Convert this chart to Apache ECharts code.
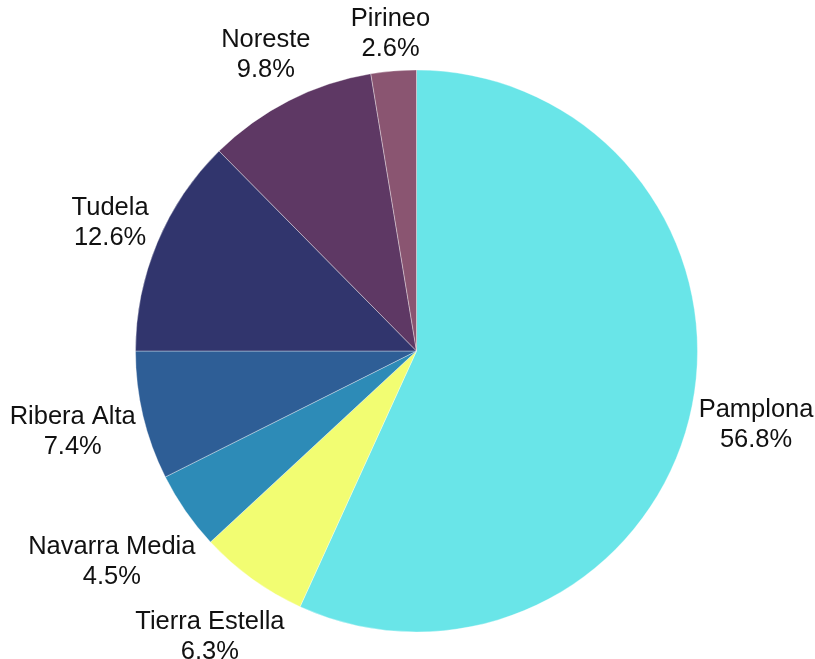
<!DOCTYPE html>
<html>
<head>
<meta charset="utf-8">
<script src="https://cdn.jsdelivr.net/npm/echarts@6/dist/echarts.min.js"></script>
<style>
  html, body { margin: 0; padding: 0; background: #fff; }
  #chart { width: 815px; height: 659px; }
</style>
</head>
<body>
<div id="chart"></div>
<script>
// Share by region (%)
var regions = ["Pamplona", "Tierra Estella", "Navarra Media", "Ribera Alta", "Tudela", "Noreste", "Pirineo"];
var shares = [56.8, 6.3, 4.5, 7.4, 12.6, 9.8, 2.6];
var colors = ["#69e5e8", "#f2fd72", "#2d8bb7", "#2e5e96", "#31356d", "#5e3864", "#8a5571"];

var cx = 416.5;
var cy = 351;
var radius = 281;

var total = shares.reduce(function (a, b) { return a + b; }, 0);

// mid angle of each slice, clockwise from 12 o'clock
function midDir(i) {
  var before = 0;
  for (var k = 0; k < i; k++) before += shares[k];
  var a = ((before + shares[i] / 2) / total) * Math.PI * 2;
  return [Math.sin(a), -Math.cos(a)];
}

var dom = document.getElementById("chart");
var myChart = echarts.init(dom);

var option = {
  animation: false,
  color: colors,
  series: [
    {
      type: "pie",
      center: [cx, cy],
      radius: radius,
      startAngle: 90,
      clockwise: true,
      data: regions.map(function (name, i) {
        return { name: name, value: shares[i] };
      }),
      itemStyle: {
        borderColor: "rgba(255,255,255,0.35)",
        borderWidth: 1,
      },
      label: {
        show: true,
        position: "outside",
        overflow: "none",
        edgeDistance: 0,
        fontFamily: "Liberation Sans, Arial, sans-serif",
        fontSize: 25.5,
        lineHeight: 30,
        color: "#111",
        formatter: function (p) {
          return p.name + "\n" + shares[p.dataIndex].toFixed(1) + "%";
        },
      },
      labelLine: { show: false },
      // push each label box just outside the circle along its slice's mid angle
      labelLayout: function (params) {
        var d = midDir(params.dataIndex);
        var w = params.labelRect.width;
        var h = params.labelRect.height;
        var dist = radius + 4 + Math.abs(d[0]) * w / 2 + Math.abs(d[1]) * h / 2;
        return {
          x: cx + d[0] * dist,
          y: cy + d[1] * dist,
          align: "center",
          verticalAlign: "middle",
        };
      },
      emphasis: { disabled: true },
    },
  ],
};

if (option && typeof option === "object") {
  myChart.setOption(option);
}
</script>
</body>
</html>
